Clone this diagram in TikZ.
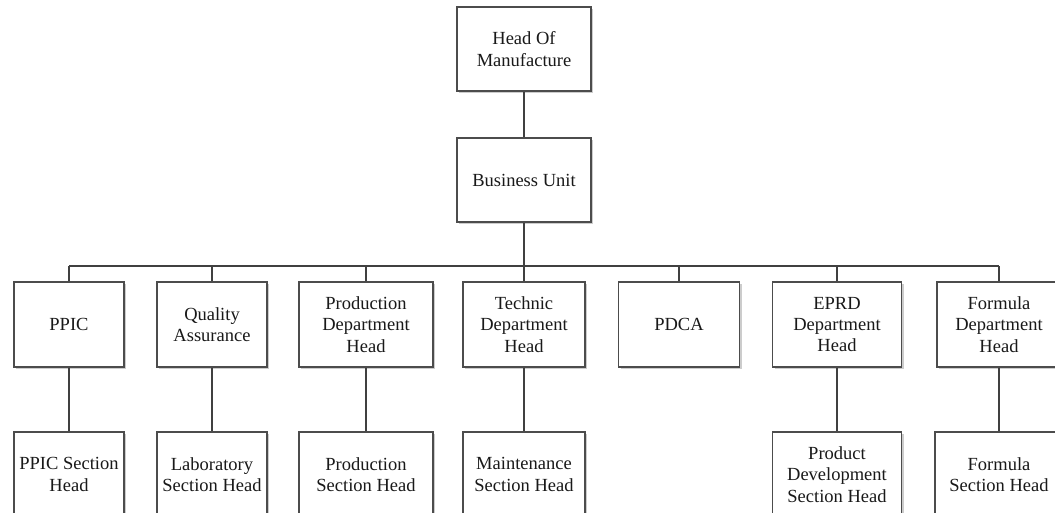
\documentclass[tikz,border=0pt]{standalone}
\usepackage{fontspec}
\setmainfont{Liberation Serif}
\usetikzlibrary{shadows}
\begin{document}
\begin{tikzpicture}[x=1pt,y=-1pt,
  box/.style={draw=black!70, line width=1.1pt, fill=white, align=center,
    inner sep=0pt, text=black!90,
    font=\fontsize{18.5}{21.3}\selectfont,
    drop shadow={shadow xshift=2pt, shadow yshift=-2pt, fill=black!20, opacity=1}},
  link/.style={draw=black!75, line width=1.5pt}]
\clip (0,0) rectangle (1055,513);
\fill[white] (0,0) rectangle (1055,513);
% top
\node[box, minimum width=134pt, minimum height=84pt] (hom) at (524,49) {Head Of\\Manufacture};
\node[box, minimum width=134pt, minimum height=84pt] (bu) at (524,180) {Business Unit};
% row 2
\node[box, minimum width=110pt, minimum height=85pt] (ppic) at (69,324.5) {PPIC};
\node[box, minimum width=110pt, minimum height=85pt] (qa) at (212,324.5) {Quality\\Assurance};
\node[box, minimum width=134pt, minimum height=85pt] (prod) at (366,324.5) {Production\\Department\\Head};
\node[box, minimum width=122pt, minimum height=85pt] (tech) at (524,324.5) {Technic\\Department\\Head};
\node[box, minimum width=121pt, minimum height=85pt] (pdca) at (679,324.5) {PDCA};
\node[box, minimum width=129pt, minimum height=85pt] (eprd) at (837,324.5) {EPRD\\Department\\Head};
\node[box, minimum width=124pt, minimum height=85pt] (form) at (999,324.5) {Formula\\Department\\Head};
% row 3
\node[box, minimum width=110pt, minimum height=85pt] (ppicsh) at (69,474.5) {PPIC Section\\Head};
\node[box, minimum width=110pt, minimum height=85pt] (lab) at (212,474.5) {Laboratory\\Section Head};
\node[box, minimum width=134pt, minimum height=85pt] (prodsh) at (366,474.5) {Production\\Section Head};
\node[box, minimum width=122pt, minimum height=85pt] (maint) at (524,474.5) {Maintenance\\Section Head};
\node[box, minimum width=129pt, minimum height=85pt] (pdev) at (837,474.5) {Product\\Development\\Section Head};
\node[box, minimum width=128pt, minimum height=85pt] (formsh) at (999,474.5) {Formula\\Section Head};
% connectors
\coordinate (bus) at (524,266);
\draw[link] (hom.south) -- (bu.north);
\draw[link] (bu.south) -- (bus);
\draw[link] (ppic.north |- bus) -- (form.north |- bus);
\foreach \n in {ppic,qa,prod,tech,pdca,eprd,form}
  \draw[link] (\n.north) -- (\n.north |- bus);
\draw[link] (ppic.south) -- (ppicsh.north);
\draw[link] (qa.south) -- (lab.north);
\draw[link] (prod.south) -- (prodsh.north);
\draw[link] (tech.south) -- (maint.north);
\draw[link] (eprd.south) -- (pdev.north);
\draw[link] (form.south) -- (formsh.north);
\end{tikzpicture}
\end{document}
